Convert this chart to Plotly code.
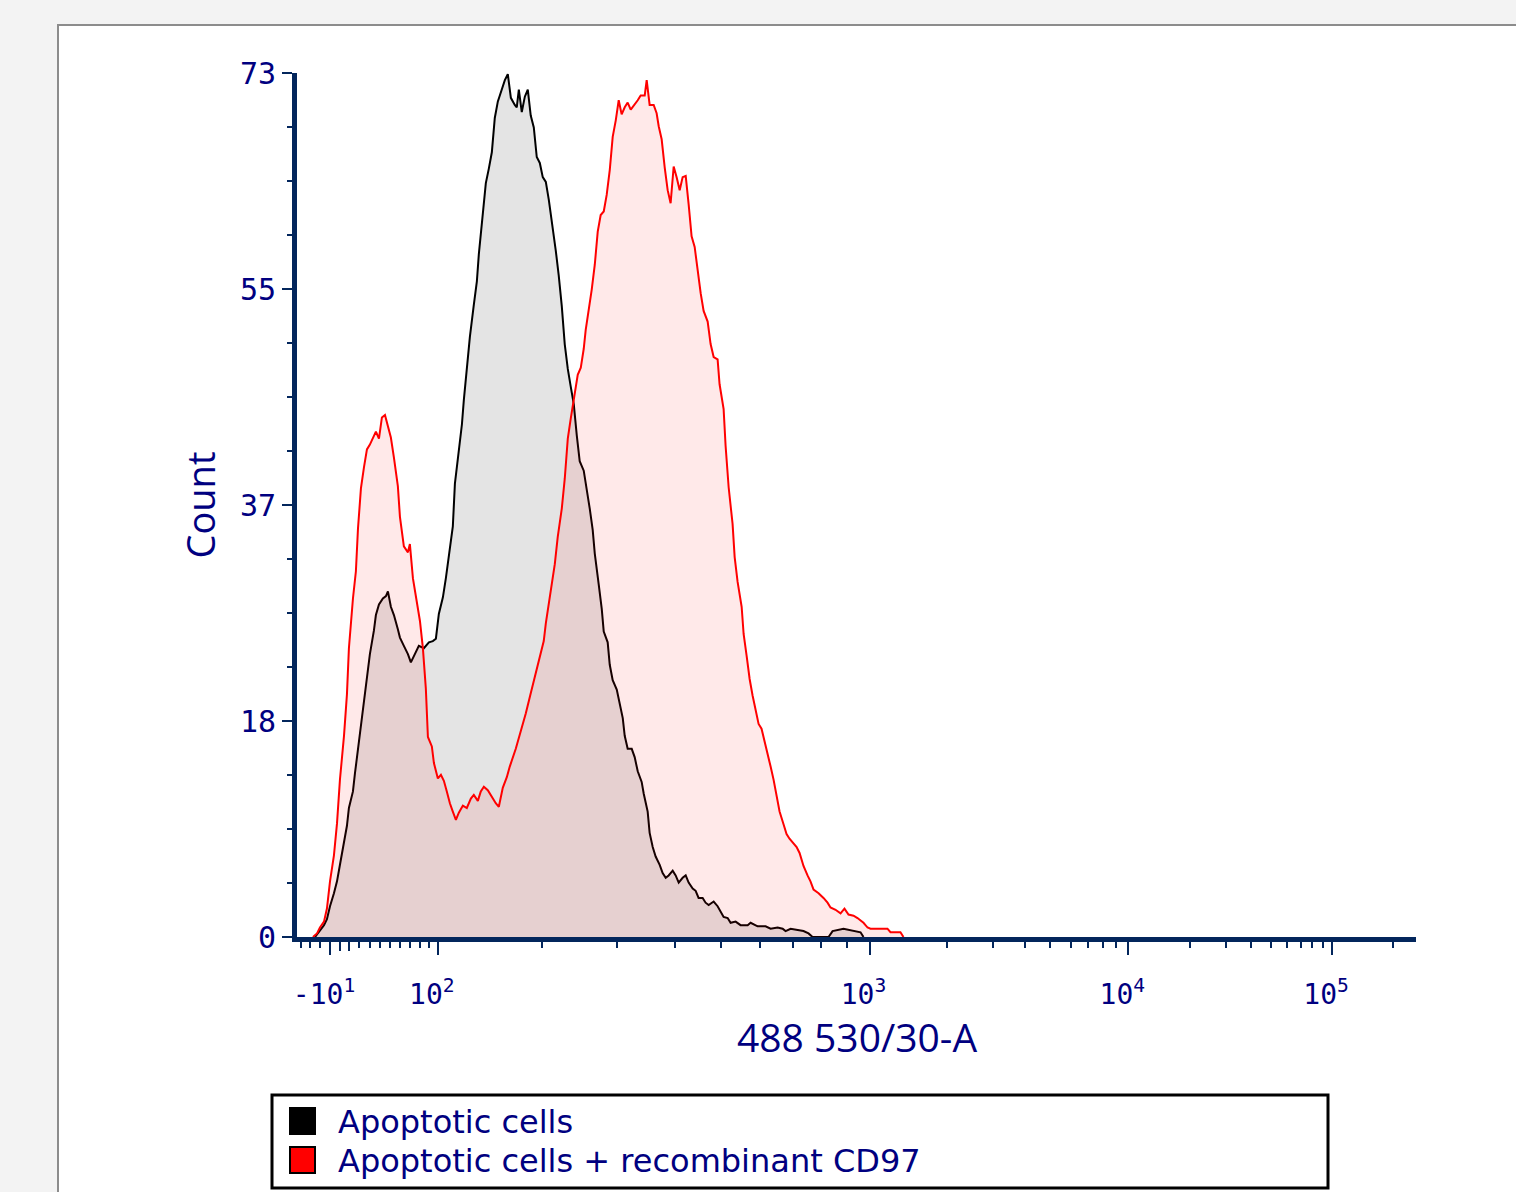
import numpy as np
import plotly.graph_objects as go

# ---------------- data (display channel of a 1024-channel biexponential scale, counts) -------------
series_names = ["Apoptotic cells", "Apoptotic cells + recombinant CD97"]
series_colors = ["#000000", "#ff0000"]

black_ch = [16.5, 21.9, 24.7, 27.4, 30.2, 33.8, 36.6, 39.3, 42.1, 45.7,
            47.5, 51.2, 53.0, 55.8, 58.5, 61.3, 64.0, 66.7, 70.4, 72.2,
            75.0, 78.6, 81.4, 83.2, 85.9, 88.7, 92.3, 94.2, 97.8, 101.5,
            104.2, 108.8, 111.5, 116.1, 120.7, 124.3, 127.1, 129.8, 133.5, 136.2,
            139.0, 142.6, 144.5, 148.1, 150.9, 152.7, 155.4, 158.2, 161.8, 164.6,
            166.4, 170.1, 172.8, 175.5, 178.3, 181.0, 183.8, 185.6, 188.3, 190.2,
            192.9, 195.7, 199.3, 201.1, 203.0, 205.7, 208.5, 211.2, 213.9, 216.7,
            219.4, 222.2, 224.9, 227.7, 230.4, 234.1, 236.8, 239.5, 242.3, 245.0,
            247.8, 250.5, 253.3, 256.0, 258.7, 262.4, 265.1, 267.9, 270.6, 272.5,
            276.1, 278.9, 280.7, 284.3, 286.2, 288.9, 292.6, 294.4, 298.1, 299.9,
            302.6, 306.3, 309.0, 311.8, 315.4, 317.3, 320.9, 322.7, 325.5, 328.2,
            331.9, 334.6, 337.4, 340.1, 343.8, 346.5, 349.3, 352.9, 355.7, 358.4,
            362.1, 364.8, 367.5, 371.2, 373.9, 376.7, 381.3, 384.9, 387.7, 390.4,
            394.1, 396.8, 401.4, 405.9, 412.4, 415.1, 421.5, 428.8, 433.4, 439.8,
            444.4, 447.1, 451.7, 459.0, 463.5, 468.1, 471.8, 486.4, 490.1, 500.1,
            506.5, 509.3, 515.7, 518.4]
black_cnt = [0, 0.6, 1.0, 1.5, 2.6, 3.7, 4.7, 6.1, 7.7, 9.4,
             10.9, 12.3, 13.8, 15.8, 17.7, 19.6, 21.7, 23.9, 25.9, 27.2,
             28.1, 28.6, 28.8, 29.2, 27.9, 27.2, 26.0, 25.3, 24.6, 23.9,
             23.2, 24.1, 24.6, 24.4, 24.9, 25.0, 25.2, 27.3, 28.7, 30.3,
             32.2, 34.7, 38.3, 41.1, 43.3, 45.4, 48.1, 50.7, 53.4, 55.4,
             57.7, 60.9, 63.7, 64.9, 66.3, 69.2, 70.6, 71.1, 72.0, 72.4,
             72.9, 70.9, 70.3, 70.1, 71.6, 69.7, 71.0, 71.6, 69.4, 68.4,
             65.9, 65.4, 64.2, 63.8, 62.3, 59.9, 58.0, 55.9, 53.3, 50.1,
             48.0, 46.5, 45.0, 42.4, 40.2, 39.4, 38.0, 36.2, 34.4, 32.4,
             29.8, 27.7, 25.8, 24.9, 23.0, 21.7, 20.9, 20.1, 18.5, 17.0,
             15.9, 15.9, 15.2, 14.0, 13.1, 12.1, 10.6, 8.8, 7.6, 6.8,
             6.1, 5.4, 5.0, 5.2, 5.6, 5.2, 4.6, 5.0, 5.2, 4.6,
             4.1, 3.9, 3.3, 3.3, 2.9, 2.7, 3.0, 2.6, 2.1, 1.7,
             1.6, 1.2, 1.3, 1.0, 1.0, 1.2, 0.9, 0.9, 0.7, 0.8,
             0.7, 0.5, 0.7, 0.6, 0.5, 0.3, 0, 0, 0.5, 0.7,
             0.6, 0.5, 0.4, 0]

red_ch = [14.6, 18.3, 21.0, 24.7, 27.4, 30.2, 33.8, 36.6, 39.3, 43.0,
          45.7, 47.5, 51.2, 53.9, 55.8, 58.5, 61.3, 64.0, 66.7, 70.4,
          72.2, 75.0, 77.7, 80.5, 83.2, 85.9, 88.7, 92.3, 94.2, 97.8,
          101.5, 103.3, 106.1, 109.7, 112.5, 115.2, 117.9, 119.8, 123.4, 125.3,
          128.9, 131.7, 134.4, 137.1, 139.9, 142.6, 145.4, 148.1, 151.8, 155.4,
          159.1, 161.8, 165.5, 168.2, 171.0, 174.6, 179.2, 181.9, 184.7, 188.3,
          192.0, 194.7, 200.2, 204.8, 209.4, 213.9, 218.5, 223.1, 225.8, 227.7,
          230.4, 234.1, 235.9, 238.6, 242.3, 245.0, 247.8, 250.5, 253.3, 256.9,
          259.7, 262.4, 264.2, 267.0, 269.7, 272.5, 275.2, 277.9, 280.7, 283.4,
          286.2, 288.9, 291.7, 294.4, 297.1, 299.9, 302.6, 305.4, 309.0, 311.8,
          314.5, 318.2, 320.0, 322.7, 326.4, 329.1, 331.0, 333.7, 336.5, 339.2,
          341.9, 344.7, 347.4, 350.2, 352.9, 355.7, 358.4, 361.1, 363.9, 366.6,
          369.4, 372.1, 375.8, 378.5, 381.3, 384.9, 386.7, 390.4, 392.2, 395.0,
          398.6, 400.5, 403.2, 406.9, 408.7, 411.4, 414.2, 416.9, 419.7, 422.4,
          425.1, 427.9, 430.6, 433.4, 436.1, 438.9, 441.6, 445.3, 448.0, 450.7,
          454.4, 457.2, 459.9, 463.5, 467.2, 469.9, 472.7, 477.3, 481.8, 485.5,
          488.2, 492.8, 497.4, 501.0, 504.7, 509.3, 512.9, 515.7, 518.4, 522.1,
          524.8, 540.3, 543.1, 552.2, 555.0]
red_cnt = [0, 0.3, 0.8, 1.3, 2.4, 4.7, 6.9, 9.6, 13.3, 17.0,
           20.5, 24.4, 28.6, 30.9, 34.5, 37.9, 39.7, 41.2, 41.6, 42.3,
           42.7, 42.1, 43.9, 44.1, 43.1, 42.2, 40.5, 38.1, 35.5, 33.0,
           32.5, 33.2, 30.3, 28.2, 26.7, 24.4, 21.0, 16.9, 16.1, 14.7,
           13.4, 13.7, 13.2, 12.3, 11.3, 10.6, 9.9, 10.5, 11.1, 10.9,
           11.7, 12.0, 11.5, 12.3, 12.7, 12.4, 11.7, 11.3, 11.0, 12.6,
           13.5, 14.4, 15.9, 17.4, 18.9, 20.6, 22.3, 23.9, 25.0, 26.5,
           28.3, 30.7, 31.5, 33.8, 36.2, 38.7, 42.1, 43.8, 45.6, 47.5,
           48.1, 49.7, 51.3, 52.9, 54.7, 56.8, 59.6, 61.0, 61.3, 62.7,
           64.8, 67.6, 69.0, 70.7, 69.5, 70.1, 70.5, 69.9, 70.3, 70.7,
           71.1, 71.1, 72.4, 70.3, 70.3, 69.6, 68.5, 67.4, 65.0, 63.1,
           62.0, 65.1, 64.2, 63.1, 64.2, 64.3, 61.9, 59.2, 58.3, 56.2,
           54.4, 52.9, 52.0, 50.1, 49.0, 48.8, 46.7, 44.6, 41.5, 38.0,
           34.9, 32.1, 30.0, 27.9, 25.6, 23.8, 21.8, 20.4, 19.1, 18.0,
           17.6, 16.6, 15.6, 14.4, 13.3, 11.9, 10.6, 9.5, 8.7, 8.3,
           7.9, 7.6, 7.1, 6.0, 5.2, 4.7, 4.0, 3.7, 3.3, 2.9,
           2.5, 2.3, 2.0, 2.4, 1.9, 1.8, 1.6, 1.4, 1.2, 0.8,
           0.7, 0.7, 0.4, 0.4, 0]

# x axis calibration: decade values and their display channels
x_decades = [-10, 0, 10, 100, 1000, 10000, 100000]
x_decade_channels = [30.2, 39.3, 47.5, 128.9, 523.9, 760.7, 947.2]
# decades that carry a label, and the labels
x_label_values = [-10, 100, 1000, 10000, 100000]
x_label_texts = ["-10<sup>1</sup>", "10<sup>2</sup>", "10<sup>3</sup>",
                 "10<sup>4</sup>", "10<sup>5</sup>"]
x_minor_values = ([-40, -30, -20] + list(range(20, 100, 10)) + list(range(200, 1000, 100))
                  + list(range(2000, 10000, 1000)) + list(range(20000, 100000, 10000)) + [200000])
x_channels_total = 1024

y_max = 73
y_tick_values = [0, 18.25, 36.5, 54.75, 73]
y_tick_labels = ["0", "18", "37", "55", "73"]

x_title = "488 530/30-A"
y_title = "Count"

# ---------------- biexponential-like value -> channel transform -------------
_t_anchor = np.arcsinh(np.array(x_decades, float) / 150.0)
_c_anchor = np.array(x_decade_channels, float)


def value_to_channel(v):
    t = np.arcsinh(np.asarray(v, float) / 150.0)
    c = np.interp(t, _t_anchor, _c_anchor)
    s_lo = (_c_anchor[1] - _c_anchor[0]) / (_t_anchor[1] - _t_anchor[0])
    s_hi = (_c_anchor[-1] - _c_anchor[-2]) / (_t_anchor[-1] - _t_anchor[-2])
    c = np.where(t < _t_anchor[0], _c_anchor[0] + (t - _t_anchor[0]) * s_lo, c)
    c = np.where(t > _t_anchor[-1], _c_anchor[-1] + (t - _t_anchor[-1]) * s_hi, c)
    return c


# ---------------- figure -------------
NAVY = "#000080"
AXIS = "#03265c"
W, H = 1516, 1192
ML, MR, MT, MB = 297, 100, 73, 255
PW, PH = W - ML - MR, H - MT - MB


def px_x(p):
    return (p - ML) / PW


def px_y(p):
    return (H - MB - p) / PH


fig = go.Figure()
fills = ["rgba(0,0,0,0.105)", "rgba(255,0,0,0.085)"]
for name, xs, ys, col, fc in zip(series_names, [black_ch, red_ch], [black_cnt, red_cnt],
                                 series_colors, fills):
    fig.add_trace(go.Scatter(x=xs, y=ys, name=name, mode="lines", fill="tozeroy",
                             fillcolor=fc, line=dict(color=col, width=2),
                             showlegend=False, hoverinfo="skip"))

# invisible helper trace on an overlay axis carrying the unlabeled long ticks (0 and 10)
fig.add_trace(go.Scatter(x=[None], y=[None], xaxis="x2", yaxis="y",
                         showlegend=False, hoverinfo="skip"))

fig.update_layout(
    width=W, height=H,
    margin=dict(l=ML, r=MR, t=MT, b=MB, pad=0),
    paper_bgcolor="#f3f3f3",
    plot_bgcolor="rgba(0,0,0,0)",
    showlegend=False,
)

fig.update_layout(xaxis=dict(
    range=[0, x_channels_total], showgrid=False, zeroline=False,
    showline=True, linecolor=AXIS, linewidth=5,
    tickmode="array", tickvals=list(value_to_channel(x_label_values)), ticktext=x_label_texts,
    ticks="outside", ticklen=13, tickwidth=2, tickcolor=AXIS,
    ticklabelstandoff=15, ticklabelshift=-6,
    tickfont=dict(family="DejaVu Sans Mono", size=28, color=NAVY),
    minor=dict(tickmode="array", tickvals=list(value_to_channel(x_minor_values)),
               ticks="outside", ticklen=6, tickwidth=2, tickcolor=AXIS, showgrid=False),
))
fig.update_layout(xaxis2=dict(
    overlaying="x", anchor="y", side="bottom", matches="x",
    range=[0, x_channels_total], showgrid=False, zeroline=False, showline=False,
    tickmode="array", tickvals=list(value_to_channel([0, 10])),
    ticks="outside", ticklen=13, tickwidth=2, tickcolor=AXIS, showticklabels=False,
))
fig.update_yaxes(
    range=[0, y_max], showgrid=False, zeroline=False,
    showline=True, linecolor=AXIS, linewidth=5,
    tickmode="array", tickvals=y_tick_values, ticktext=y_tick_labels,
    ticks="outside", ticklen=10, tickwidth=2, tickcolor=AXIS,
    tickfont=dict(family="DejaVu Sans Mono", size=30, color=NAVY),
    minor=dict(tick0=0, dtick=y_max / 16, ticks="outside", ticklen=5, tickwidth=2,
               tickcolor=AXIS, showgrid=False),
    title=dict(text=y_title, font=dict(family="Open Sans", size=38, color=NAVY), standoff=14),
)

# x axis title, centred under the plot area
fig.add_annotation(xref="paper", yref="paper", x=0.5, y=px_y(1036),
                   xanchor="center", yanchor="middle", showarrow=False, text=x_title,
                   borderpad=0, font=dict(family="Open Sans", size=39, color=NAVY))

# white panel behind the chart
fig.add_shape(type="rect", xref="paper", yref="paper", layer="below",
              x0=px_x(58), x1=px_x(W + 20), y0=px_y(H + 20), y1=px_y(25),
              fillcolor="white", line=dict(color="#8c8c8c", width=2))

# legend box
fig.add_shape(type="rect", xref="paper", yref="paper",
              x0=px_x(272), x1=px_x(1328), y0=px_y(1188), y1=px_y(1095),
              fillcolor="white", line=dict(color="black", width=3))
legend_rows = [1121, 1160]
for name, col, yc in zip(series_names, series_colors, legend_rows):
    fig.add_shape(type="rect", xref="paper", yref="paper",
                  x0=px_x(290), x1=px_x(315), y0=px_y(yc + 13), y1=px_y(yc - 13),
                  fillcolor=col, line=dict(color="black", width=2))
    fig.add_annotation(xref="paper", yref="paper", x=px_x(336), y=px_y(yc + 1),
                       xanchor="left", yanchor="middle", showarrow=False, text=name,
                       font=dict(family="DejaVu Sans", size=32, color=NAVY))

fig.write_html("out.html",
               config={"displayModeBar": False},
               post_script="document.body.style.margin='0';document.body.style.overflow='hidden';"
                           "document.body.style.background='#f3f3f3';")
